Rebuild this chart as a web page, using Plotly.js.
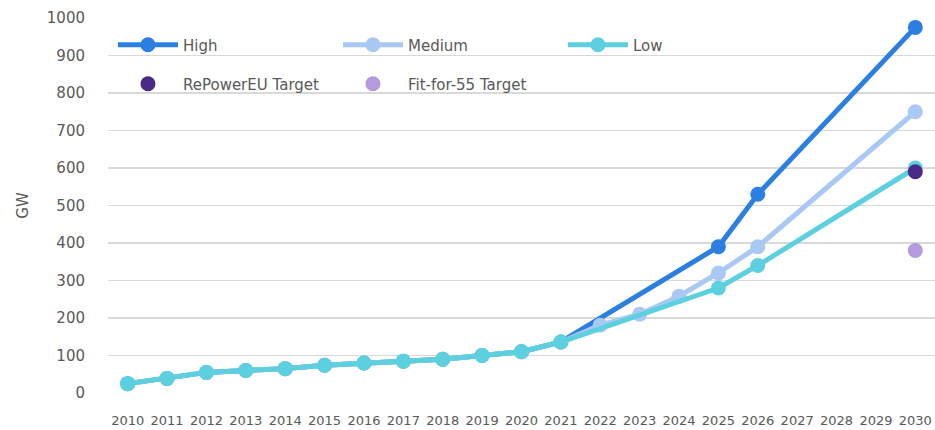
<!DOCTYPE html>
<html>
<head>
<meta charset="utf-8">
<script src="https://cdn.plot.ly/plotly-3.0.1.min.js"></script>
<style>html,body{margin:0;padding:0;background:#fff;}#chart{width:935px;height:430px;}</style>
</head>
<body>
<div id="chart"></div>
<script>
const years = [2010,2011,2012,2013,2014,2015,2016,2017,2018,2019,2020,2021,2022,2023,2024,2025,2026,2027,2028,2029,2030];
const highValues   = [25,39,55,60,65,74,80,85,90,100,110,136,null,null,null,390,530,null,null,null,975];
const mediumValues = [25,39,55,60,65,74,80,85,90,100,110,136,181,210,258,320,390,null,null,null,750];
const lowValues    = [25,39,55,60,65,74,80,85,90,100,110,136,null,null,null,280,340,null,null,null,600];
const targetYears = [2030];
const rePowerEU = [590];
const fitFor55 = [380];

const font = "'DejaVu Sans', sans-serif";
const gray = "#595959";

function lineTrace(name, y, color, legend) {
  return {x: years, y: y, name: name, type: 'scatter', mode: 'lines+markers', connectgaps: true,
    line: {color: color, width: 5}, marker: {color: color, size: 15}, cliponaxis: false, legend: legend};
}
const data = [
  lineTrace('High', highValues, '#2b7fe0', 'legend'),
  lineTrace('Medium', mediumValues, '#a9c9f4', 'legend'),
  lineTrace('Low', lowValues, '#5dd0df', 'legend'),
  {x: targetYears, y: rePowerEU, name: 'RePowerEU Target', type: 'scatter', mode: 'markers',
    marker: {color: '#4a2a88', size: 15}, cliponaxis: false, legend: 'legend2'},
  {x: targetYears, y: fitFor55, name: 'Fit-for-55 Target', type: 'scatter', mode: 'markers',
    marker: {color: '#b39be0', size: 15}, cliponaxis: false, legend: 'legend2'}
];
const legendCommon = {orientation: 'h', xref: 'paper', yref: 'paper', xanchor: 'left', yanchor: 'middle',
  bgcolor: 'rgba(0,0,0,0)', font: {family: font, size: 15, color: gray}, itemwidth: 60, entrywidth: 150,
  entrywidthmode: 'pixels', traceorder: 'normal', itemclick: false};
const layout = {
  width: 935, height: 430,
  margin: {l: 108, r: 0, t: 18, b: 37, autoexpand: false},
  paper_bgcolor: '#fff', plot_bgcolor: '#fff',
  font: {family: font, color: gray, size: 13},
  showlegend: true,
  legend: Object.assign({}, legendCommon, {x: 0.006, y: 0.928}),
  legend2: Object.assign({}, legendCommon, {x: 0.006, y: 0.824}),
  xaxis: {range: [2009.5, 2030.5], tickmode: 'array', tickvals: years, ticktext: years.map(String),
    showgrid: false, zeroline: false, showline: false, ticks: '', ticklabelstandoff: 18,
    tickfont: {family: font, size: 13, color: gray}, fixedrange: true},
  yaxis: {range: [0, 1000], dtick: 100, showgrid: true, gridcolor: '#d9d9d9', gridwidth: 1.5,
    zeroline: false, showline: false, ticks: '', ticklabelstandoff: 22,
    tickfont: {family: font, size: 15, color: gray},
    title: {text: 'GW', font: {family: font, size: 15, color: gray}, standoff: 14}, fixedrange: true}
};
Plotly.newPlot('chart', data, layout, {displayModeBar: false, staticPlot: true});
</script>
</body>
</html>
